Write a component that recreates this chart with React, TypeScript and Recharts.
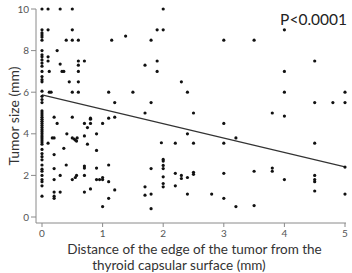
import {
  ScatterChart,
  Scatter,
  XAxis,
  YAxis,
  ReferenceLine,
  Label,
} from "recharts";

// tumors touching the capsule (distance 0)
const distZeroSizes = [
  10, 9.0, 8.85, 8.75, 8.65, 8.5, 8.0, 7.8, 7.7, 7.55, 7.4, 7.25, 7.0, 6.75,
  6.6, 6.5, 6.05, 5.8, 5.65, 5.5, 5.1, 5.0, 4.9, 4.8, 4.7, 4.6, 4.5, 4.4, 4.3,
  4.2, 4.1, 4.0, 3.9, 3.8, 3.7, 3.6, 3.5, 3.25, 3.05, 2.9, 2.75, 2.5, 2.3, 2.2,
  2.0, 1.8, 1.7, 1.5, 1.0,
];

// [distance, size] pairs
const distUnderOne = [
  [0.1, 10], [0.3, 10], [0.5, 10],
  [0.1, 9.0], [0.5, 9.0],
  [0.4, 8.5], [0.5, 8.5], [0.6, 8.5],
  [0.25, 8.0],
  [0.1, 7.7], [0.1, 7.5], [0.6, 7.5], [0.7, 7.5], [0.6, 7.3], [0.3, 7.35],
  [0.12, 7.0], [0.33, 7.0], [0.36, 7.0], [0.6, 7.0],
  [0.45, 6.5], [0.6, 6.5],
  [0.12, 6.0], [0.15, 6.0], [0.5, 6.0], [0.6, 6.0],
  [0.2, 4.8], [0.5, 4.8], [0.8, 4.75],
  [0.25, 4.5], [0.7, 4.5], [0.8, 4.5], [0.8, 4.7], [0.75, 4.3],
  [0.1, 3.55], [0.17, 3.8], [0.2, 3.8], [0.2, 3.0], [0.36, 3.3], [0.41, 4.0],
  [0.5, 3.8], [0.53, 3.75], [0.55, 3.7], [0.57, 3.65], [0.58, 3.8],
  [0.7, 3.9], [0.75, 3.5], [0.9, 4.0], [0.9, 3.2],
  [0.2, 2.33], [0.2, 1.8], [0.3, 2.0], [0.4, 2.5], [0.5, 1.8], [0.55, 1.9],
  [0.57, 2.0], [0.7, 2.45], [0.7, 2.35], [0.7, 2.0], [0.9, 2.35], [0.9, 1.8],
  [0.95, 1.8],
  [0.2, 1.2], [0.2, 1.0], [0.2, 0.9], [0.3, 1.2], [0.7, 1.2], [0.8, 1.35],
];

const distOneToTwo = [
  [1.0, 4.5], [1.0, 1.8], [1.0, 1.9], [1.0, 0.5],
  [1.1, 6.0], [1.1, 4.75], [1.1, 2.5], [1.1, 1.7], [1.1, 0.9],
  [1.15, 8.5], [1.2, 5.5], [1.2, 4.8], [1.2, 1.3],
  [1.38, 8.7], [1.5, 6.0],
  [1.7, 7.3], [1.7, 5.0], [1.7, 1.45], [1.7, 1.05],
  [1.8, 8.5], [1.8, 5.5], [1.8, 2.33], [1.8, 1.1], [1.8, 0.4],
  [1.9, 9.0], [1.9, 7.5], [1.9, 7.0],
  [2.0, 10], [2.0, 9.0], [1.97, 3.57], [2.0, 2.77], [2.0, 2.69], [2.0, 2.48],
  [2.0, 2.33], [2.0, 1.93], [2.0, 1.61], [2.0, 1.45],
];

const distOverTwo = [
  [2.2, 3.55], [2.2, 2.1], [2.2, 1.5],
  [2.3, 6.5], [2.3, 2.0], [2.3, 1.85],
  [2.4, 6.0], [2.4, 4.0], [2.4, 1.9], [2.4, 1.1],
  [2.5, 5.0], [2.5, 3.55], [2.5, 2.15], [2.5, 2.05],
  [2.8, 1.1],
  [3.0, 8.5], [3.0, 4.5], [3.0, 3.55], [3.0, 2.1], [3.0, 0.9],
  [3.2, 3.8], [3.2, 0.5],
  [3.5, 8.5], [3.5, 2.2], [3.5, 0.55],
  [3.8, 5.0], [3.8, 2.35], [3.8, 2.2],
  [4.0, 9.0], [4.0, 7.0], [4.0, 6.0], [4.0, 4.85], [4.0, 1.8],
  [4.5, 7.5], [4.5, 5.5], [4.5, 3.55], [4.5, 2.0], [4.5, 1.8], [4.5, 1.7],
  [4.5, 1.25],
  [4.8, 5.5],
  [5.0, 6.0], [5.0, 5.5], [5.0, 2.4], [5.0, 1.1],
];

// fitted regression line end points
const fitAtZero = 5.87;
const fitAtFive = 2.41;

const xTicks = [0, 1, 2, 3, 4, 5];
const yTicks = [0, 2, 4, 6, 8, 10];

const points = [
  ...distZeroSizes.map((y) => ({ x: 0, y })),
  ...[...distUnderOne, ...distOneToTwo, ...distOverTwo].map(([x, y]) => ({ x, y })),
];

const FONT = "Lato, 'Liberation Sans', sans-serif";

const Dot = (props: any) => (
  <circle cx={props.cx} cy={props.cy} r={1.6} fill="#111" />
);

const XTitle = (props: any) => {
  const vb = props.viewBox;
  const cx = vb.x + vb.width / 2;
  return (
    <g fontFamily={FONT} fontSize={13.5} fill="#333">
      <text x={cx + 3.5} y={253.5} textAnchor="middle">
        Distance of the edge of the tumor from the
      </text>
      <text x={cx - 12} y={270} textAnchor="middle">
        thyroid capsular surface (mm)
      </text>
    </g>
  );
};

const YTitle = () => (
  <text
    x={19}
    y={116}
    transform="rotate(-90 19 116)"
    textAnchor="middle"
    fontFamily={FONT}
    fontSize={14}
    fill="#333"
  >
    Tumor size (mm)
  </text>
);

export default function App() {
  return (
    <div style={{ position: "absolute", left: 0, top: 0 }}>
      <ScatterChart
        width={352}
        height={273}
        margin={{ top: 9, right: 6, bottom: 0, left: 0 }}
      >
        <XAxis
          type="number"
          dataKey="x"
          domain={[0, 5]}
          ticks={xTicks}
          padding={{ left: 6, right: 1 }}
          height={50}
          tickSize={4}
          tickMargin={3}
          stroke="#8a8a8a"
          tick={{ fill: "#555", fontSize: 10, fontFamily: FONT }}
        >
          <Label content={XTitle} />
        </XAxis>
        <YAxis
          type="number"
          dataKey="y"
          domain={[0, 10]}
          ticks={yTicks}
          padding={{ top: 0, bottom: 6 }}
          width={36}
          tickSize={5}
          tickMargin={2}
          stroke="#8a8a8a"
          tick={{ fill: "#555", fontSize: 10, fontFamily: FONT }}
        >
          <Label content={YTitle} />
        </YAxis>
        <ReferenceLine
          segment={[
            { x: 0, y: fitAtZero },
            { x: 5, y: fitAtFive },
          ]}
          stroke="#333"
          strokeWidth={1.1}
        />
        <Scatter data={points} shape={Dot} isAnimationActive={false} />
        <text
          x={347}
          y={25}
          textAnchor="end"
          fontFamily={FONT}
          fontSize={15.5}
          fill="#222"
        >
          P&lt;0.0001
        </text>
      </ScatterChart>
    </div>
  );
}
